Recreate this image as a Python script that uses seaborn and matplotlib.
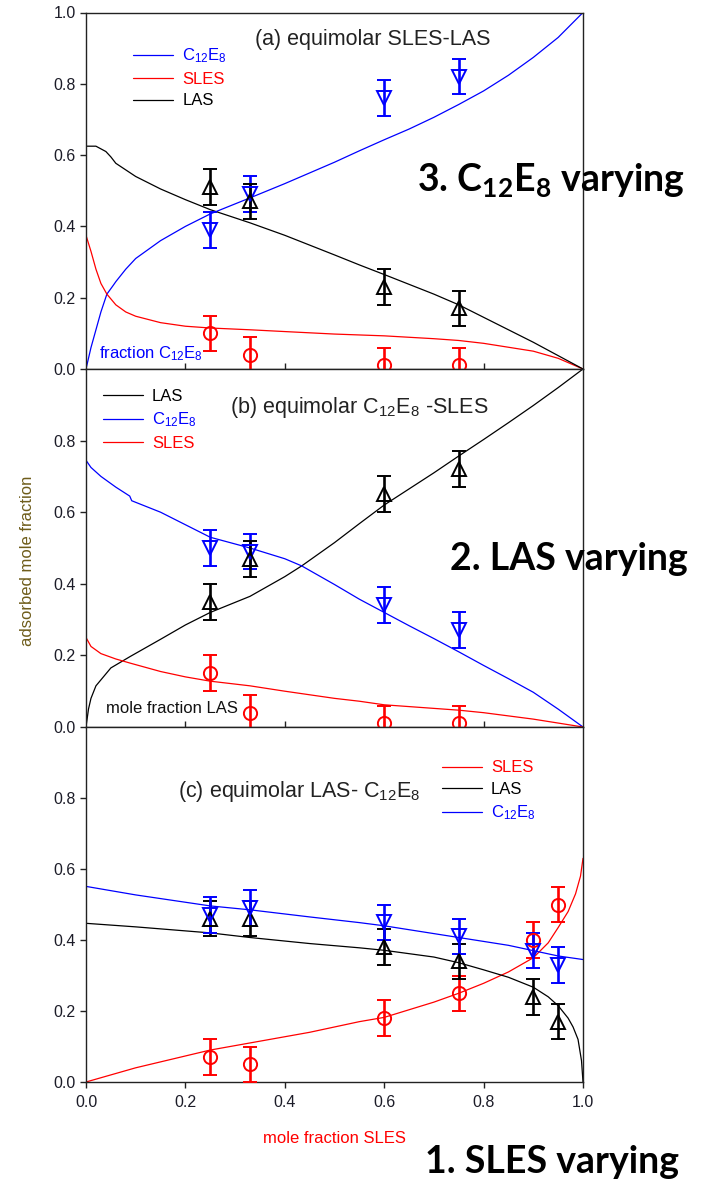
import numpy as np
import pandas as pd
import matplotlib
matplotlib.use('Agg')
import matplotlib.pyplot as plt
import seaborn as sns

# ---------------- data ----------------
# panel (a): equimolar SLES-LAS, x = mole fraction C12E8
A_C12E8_X = [0.0, 0.01, 0.02, 0.03, 0.042, 0.055, 0.06, 0.08, 0.1, 0.15, 0.2, 0.25, 0.33, 0.4, 0.5, 0.55, 0.6, 0.65, 0.7, 0.75, 0.8, 0.85, 0.9, 0.95, 1.0]
A_C12E8_Y = [0.0, 0.06, 0.11, 0.16, 0.21, 0.235, 0.245, 0.28, 0.31, 0.36, 0.40, 0.435, 0.48, 0.52, 0.58, 0.612, 0.643, 0.673, 0.706, 0.742, 0.78, 0.824, 0.874, 0.93, 1.0]
A_LAS_X = [0.0, 0.02, 0.04, 0.05, 0.06, 0.1, 0.15, 0.2, 0.25, 0.33, 0.4, 0.5, 0.55, 0.6, 0.7, 0.75, 0.8, 0.9, 1.0]
A_LAS_Y = [0.625, 0.625, 0.61, 0.595, 0.577, 0.54, 0.505, 0.475, 0.447, 0.41, 0.375, 0.32, 0.292, 0.265, 0.21, 0.18, 0.145, 0.075, 0.0]
A_SLES_X = [0.0, 0.01, 0.02, 0.03, 0.042, 0.06, 0.08, 0.1, 0.15, 0.2, 0.25, 0.33, 0.4, 0.5, 0.6, 0.7, 0.75, 0.8, 0.9, 0.95, 1.0]
A_SLES_Y = [0.375, 0.33, 0.28, 0.24, 0.21, 0.18, 0.16, 0.148, 0.13, 0.12, 0.115, 0.11, 0.105, 0.098, 0.093, 0.085, 0.08, 0.072, 0.05, 0.03, 0.0]
A_PTS_X = [0.25, 0.33, 0.60, 0.75]
A_C12E8_PTS = [0.39, 0.49, 0.76, 0.82]
A_LAS_PTS = [0.51, 0.47, 0.23, 0.17]
A_SLES_PTS = [0.10, 0.04, 0.01, 0.01]

# panel (b): equimolar C12E8-SLES, x = mole fraction LAS
B_LAS_X = [0.0, 0.005, 0.01, 0.02, 0.05, 0.089, 0.15, 0.2, 0.25, 0.33, 0.4, 0.434, 0.5, 0.55, 0.6, 0.65, 0.7, 0.75, 0.8, 0.85, 0.9, 0.95, 1.0]
B_LAS_Y = [0.0, 0.05, 0.08, 0.115, 0.165, 0.197, 0.245, 0.285, 0.32, 0.365, 0.42, 0.45, 0.515, 0.568, 0.62, 0.665, 0.71, 0.757, 0.803, 0.85, 0.898, 0.948, 1.0]
B_C12E8_X = [0.0, 0.01, 0.03, 0.06, 0.088, 0.092, 0.15, 0.2, 0.25, 0.33, 0.4, 0.434, 0.5, 0.55, 0.6, 0.65, 0.7, 0.75, 0.8, 0.85, 0.9, 0.95, 1.0]
B_C12E8_Y = [0.745, 0.725, 0.70, 0.67, 0.645, 0.632, 0.60, 0.565, 0.53, 0.50, 0.47, 0.45, 0.398, 0.357, 0.32, 0.283, 0.247, 0.21, 0.172, 0.135, 0.097, 0.05, 0.0]
B_SLES_X = [0.0, 0.01, 0.03, 0.06, 0.09, 0.15, 0.2, 0.25, 0.33, 0.4, 0.5, 0.55, 0.6, 0.7, 0.75, 0.8, 0.9, 1.0]
B_SLES_Y = [0.25, 0.225, 0.205, 0.19, 0.178, 0.155, 0.14, 0.128, 0.115, 0.10, 0.08, 0.072, 0.062, 0.052, 0.047, 0.04, 0.022, 0.0]
B_PTS_X = [0.25, 0.33, 0.60, 0.75]
B_LAS_PTS = [0.35, 0.47, 0.65, 0.72]
B_C12E8_PTS = [0.50, 0.49, 0.34, 0.27]
B_SLES_PTS = [0.15, 0.04, 0.01, 0.01]

# panel (c): equimolar LAS-C12E8, x = mole fraction SLES
C_SLES_X = [0.0, 0.1, 0.25, 0.33, 0.45, 0.55, 0.6, 0.7, 0.75, 0.8, 0.85, 0.9, 0.93, 0.95, 0.97, 0.985, 0.995, 1.0]
C_SLES_Y = [0.0, 0.04, 0.09, 0.11, 0.14, 0.17, 0.182, 0.225, 0.25, 0.278, 0.31, 0.35, 0.392, 0.435, 0.48, 0.53, 0.58, 0.63]
C_LAS_X = [0.0, 0.1, 0.25, 0.33, 0.45, 0.55, 0.6, 0.7, 0.75, 0.8, 0.85, 0.9, 0.93, 0.95, 0.97, 0.98, 0.99, 0.997, 1.0]
C_LAS_Y = [0.447, 0.437, 0.42, 0.407, 0.39, 0.378, 0.371, 0.352, 0.336, 0.316, 0.295, 0.267, 0.24, 0.215, 0.18, 0.155, 0.12, 0.06, 0.0]
C_C12E8_X = [0.0, 0.1, 0.25, 0.33, 0.45, 0.55, 0.6, 0.75, 0.85, 0.9, 0.95, 1.0]
C_C12E8_Y = [0.551, 0.527, 0.496, 0.485, 0.465, 0.449, 0.44, 0.407, 0.385, 0.37, 0.355, 0.345]
C_PTS_X = [0.25, 0.33, 0.60, 0.75, 0.90, 0.95]
C_SLES_PTS = [0.07, 0.05, 0.18, 0.25, 0.40, 0.50]
C_LAS_PTS = [0.46, 0.46, 0.38, 0.34, 0.24, 0.17]
C_C12E8_PTS = [0.47, 0.49, 0.45, 0.41, 0.37, 0.33]

ERR = 0.05

# ---------------- style ----------------
sns.set_theme(style='ticks')
plt.rcParams['font.family'] = ['Liberation Sans', 'DejaVu Sans']
plt.rcParams['mathtext.default'] = 'regular'
plt.rcParams['axes.linewidth'] = 1.0

BLUE = '#0000ff'
RED = '#ff0000'
BLACK = '#000000'
TICKC = '#1c1c28'
C12 = 'C$_{12}$E$_8$'

fig = plt.figure(figsize=(7.16, 11.84), dpi=100)
L, W = 86 / 716, 497 / 716
ax_a = fig.add_axes([L, 1 - 369 / 1184, W, 356.5 / 1184])
ax_b = fig.add_axes([L, 1 - 727 / 1184, W, 358 / 1184])
ax_c = fig.add_axes([L, 1 - 1082 / 1184, W, 355 / 1184])


def curve(ax, xs, ys, color, label):
    df = pd.DataFrame({'x': xs, 'y': ys})
    sns.lineplot(data=df, x='x', y='y', color=color, label=label, ax=ax,
                 linewidth=0.9, sort=True)


def points(ax, xs, ys, color, marker):
    ax.errorbar(xs, ys, yerr=[ERR] * len(xs), fmt=marker, mfc='none', mec=color,
                ms=9.5, mew=1.4, ecolor=color, elinewidth=1.9, capsize=5,
                capthick=1.9, zorder=4)


def style(ax, top_label, bottom):
    ax.set_xlim(0, 1)
    ax.set_ylim(0, 1)
    ax.set_xlabel('')
    ax.set_ylabel('')
    if top_label:
        ax.set_yticks([0, 0.2, 0.4, 0.6, 0.8, 1.0])
    else:
        ax.set_yticks([0, 0.2, 0.4, 0.6, 0.8])
    ax.set_yticklabels([f'{v:.1f}' for v in ax.get_yticks()])
    ax.tick_params(axis='y', direction='out', length=4.5, width=1.0,
                   labelsize=11.5, labelcolor=TICKC, color='#222222', pad=3)
    if bottom:
        ax.set_xticks([0, 0.2, 0.4, 0.6, 0.8, 1.0])
        ax.set_xticklabels([f'{v:.1f}' for v in ax.get_xticks()])
        ax.tick_params(axis='x', direction='out', length=4.5, width=1.0,
                       labelsize=11.5, labelcolor=TICKC, color='#222222', pad=5)
    else:
        ax.set_xticks([0.2, 0.4, 0.6, 0.8])
        ax.tick_params(axis='x', direction='in', length=4.5, width=1.0,
                       labelbottom=False, color='#222222')
    for s in ax.spines.values():
        s.set_color('#222222')
        s.set_linewidth(1.0)


def legend(ax, anchor):
    ax.legend(loc='upper left', bbox_to_anchor=anchor, frameon=False,
              fontsize=12, handlelength=2.4, handletextpad=0.55,
              labelspacing=0.4, borderpad=0, borderaxespad=0,
              labelcolor='linecolor')


# panel (a)
curve(ax_a, A_C12E8_X, A_C12E8_Y, BLUE, C12)
curve(ax_a, A_SLES_X, A_SLES_Y, RED, 'SLES')
curve(ax_a, A_LAS_X, A_LAS_Y, BLACK, 'LAS')
points(ax_a, A_PTS_X, A_C12E8_PTS, BLUE, 'v')
points(ax_a, A_PTS_X, A_LAS_PTS, BLACK, '^')
points(ax_a, A_PTS_X, A_SLES_PTS, RED, 'o')
style(ax_a, True, False)
legend(ax_a, (0.0946, 0.905))
ax_a.text(255 / 716, 1 - 45 / 1184, '(a) equimolar SLES-LAS', transform=fig.transFigure,
          fontsize=15.5, color='#222222', va='baseline')
ax_a.text(99 / 716, 1 - 358 / 1184, 'fraction ' + C12, transform=fig.transFigure,
          fontsize=12, color=BLUE, va='baseline')

# panel (b)
curve(ax_b, B_LAS_X, B_LAS_Y, BLACK, 'LAS')
curve(ax_b, B_C12E8_X, B_C12E8_Y, BLUE, C12)
curve(ax_b, B_SLES_X, B_SLES_Y, RED, 'SLES')
points(ax_b, B_PTS_X, B_C12E8_PTS, BLUE, 'v')
points(ax_b, B_PTS_X, B_LAS_PTS, BLACK, '^')
points(ax_b, B_PTS_X, B_SLES_PTS, RED, 'o')
style(ax_b, False, False)
legend(ax_b, (0.034, 0.944))
ax_b.text(230 / 716, 1 - 413 / 1184, '(b) equimolar ' + C12 + ' -SLES', transform=fig.transFigure,
          fontsize=15.5, color='#222222', va='baseline')
ax_b.text(106 / 716, 1 - 713 / 1184, 'mole fraction LAS', transform=fig.transFigure,
          fontsize=12, color='#111111', va='baseline')

# panel (c)
curve(ax_c, C_SLES_X, C_SLES_Y, RED, 'SLES')
curve(ax_c, C_LAS_X, C_LAS_Y, BLACK, 'LAS')
curve(ax_c, C_C12E8_X, C_C12E8_Y, BLUE, C12)
points(ax_c, C_PTS_X, C_SLES_PTS, RED, 'o')
points(ax_c, C_PTS_X, C_LAS_PTS, BLACK, '^')
points(ax_c, C_PTS_X, C_C12E8_PTS, BLUE, 'v')
style(ax_c, False, True)
legend(ax_c, (0.716, 0.906))
ax_c.text(178 / 716, 1 - 797 / 1184, '(c) equimolar LAS- ' + C12, transform=fig.transFigure,
          fontsize=15.5, color='#222222', va='baseline')

# axis labels
fig.text(334.5 / 716, 1 - 1143 / 1184, 'mole fraction SLES', color=RED, fontsize=12,
         ha='center', va='baseline')
fig.text(28 / 716, 1 - 561 / 1184, 'adsorbed mole fraction', color='#6e5c1a', fontsize=12,
         rotation=90, ha='center', va='center')

# big annotations
big = dict(fontsize=27, fontweight='bold', family=['Lato', 'DejaVu Sans'], color='black',
           va='baseline', ha='left')
fig.text(417 / 716, 1 - 191 / 1184, '3. ' + C12 + ' varying', **big)
fig.text(450 / 716, 1 - 570 / 1184, '2. LAS varying', **big)
fig.text(425 / 716, 1 - 1173 / 1184, '1. SLES varying', **big)

fig.savefig('out.png', dpi=100)
